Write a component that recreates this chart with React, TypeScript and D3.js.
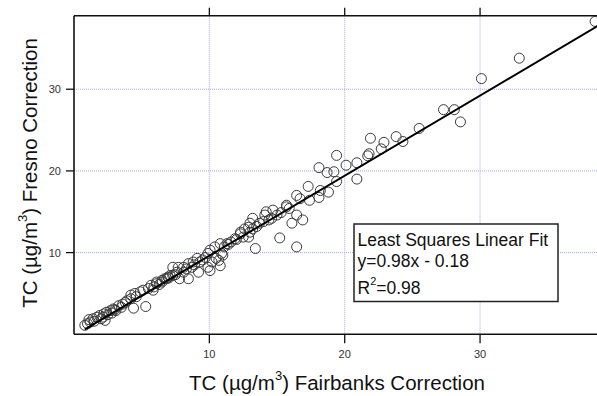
import React from "react";
import * as d3 from "d3";

const fairbanks = [
  0.8, 1.0, 1.2, 1.1, 1.4, 1.5, 1.7, 1.9, 2.0, 2.2, 2.3, 2.15, 2.4, 2.5, 2.7, 2.8, 2.9, 3.1, 3.0, 3.3,
  3.5, 3.6, 3.8, 3.9, 4.2, 4.2, 4.4, 4.5, 4.6, 4.9, 5.1, 5.3, 5.5, 5.7, 5.85, 5.9, 6.1, 6.1, 6.3, 6.5,
  6.5, 6.7, 6.85, 6.95, 7.0, 7.1, 7.3, 7.3, 7.5, 7.6, 7.7, 7.8, 8.1, 8.1, 8.3, 8.45, 8.45, 8.7, 8.8, 8.9,
  9.1, 9.2, 9.3, 9.5, 9.7, 9.9, 9.9, 10.05, 10.05, 10.2, 10.4, 10.5, 10.7, 10.8, 10.8, 10.9, 11.0, 11.1, 11.3, 11.4,
  11.6, 11.9, 12.0, 12.3, 12.3, 12.5, 12.6, 12.9, 12.9, 13.0, 13.0, 13.2, 13.2, 13.4, 13.5, 13.7, 14.0, 14.1, 14.2, 14.4,
  14.6, 14.7, 15.0, 15.2, 15.3, 15.7, 15.7, 15.9, 16.1, 16.45, 16.45, 16.45, 16.7, 16.9, 17.3, 17.4, 18.1, 18.1, 18.2, 18.7,
  18.8, 19.2, 19.4, 19.4, 20.1, 20.9, 20.9, 21.7, 21.8, 21.9, 22.7, 22.9, 23.8, 24.3, 25.5, 27.3, 28.1, 28.55, 30.1, 32.9,
  38.5,
];

const fresno = [
  1.1, 1.3, 1.5, 1.8, 1.9, 1.6, 2.1, 2.3, 1.9, 2.5, 1.7, 2.1, 2.7, 2.4, 2.9, 2.6, 3.1, 2.9, 3.0, 3.5,
  3.3, 3.7, 3.9, 4.1, 4.35, 4.8, 3.2, 5.0, 4.6, 5.2, 5.4, 3.4, 5.6, 6.0, 5.4, 5.8, 6.2, 6.4, 6.1, 6.4,
  6.6, 6.8, 6.8, 7.0, 6.9, 7.2, 7.2, 8.2, 7.3, 7.6, 8.2, 6.8, 7.6, 8.2, 8.0, 8.65, 6.8, 8.2, 8.85, 8.5,
  9.3, 7.6, 8.85, 9.1, 9.4, 8.2, 9.9, 7.8, 10.3, 8.85, 10.7, 9.3, 9.05, 8.4, 11.1, 9.9, 9.7, 10.7, 11.1, 11.0,
  11.3, 11.7, 11.6, 12.5, 12.3, 11.9, 12.9, 13.1, 11.9, 12.5, 13.6, 14.2, 12.9, 10.5, 13.2, 13.6, 13.8, 14.6, 15.0, 14.0,
  14.2, 15.2, 14.6, 11.8, 14.9, 15.8, 15.6, 15.4, 13.6, 14.6, 10.7, 17.0, 16.6, 14.0, 18.1, 16.4, 16.75, 20.4, 17.6, 19.8,
  17.4, 19.9, 18.7, 21.9, 20.7, 21.0, 19.0, 21.85, 22.1, 24.0, 22.7, 23.5, 24.2, 23.6, 25.2, 27.5, 27.5, 26.0, 31.3, 33.8,
  38.3,
];

const tickValues = [10, 20, 30];
const fitSlope = 0.98;
const fitIntercept = -0.18;
const fitRange = [0.8, 38.7];
const legendLines = ["Least Squares Linear Fit", "y=0.98x - 0.18"];

export default function App() {
  const W = 597;
  const H = 396;
  const left = 74;
  const top = 15.7;
  const bottom = 334.3;
  const x = d3.scaleLinear().domain([0, 38.64]).range([left, 597]);
  const y = d3.scaleLinear().domain([0, 39]).range([bottom, top]);
  const line = d3
    .line<number>()
    .x((d) => x(d))
    .y((d) => y(fitSlope * d + fitIntercept));
  const pts = fairbanks.map((v, i) => [v, fresno[i]]);
  const grid = "#a8a8e6";
  const font = "Arial, 'Liberation Sans', sans-serif";
  return (
    <svg
      width={W}
      height={H}
      style={{ position: "absolute", left: 0, top: 0, background: "#fff" }}
      fontFamily={font}
    >
      <rect x={0} y={0} width={W} height={H} fill="#fff" />
      {tickValues.map((t) => (
        <g key={"g" + t}>
          <line x1={x(t)} x2={x(t)} y1={top} y2={bottom} stroke={grid} strokeWidth={1} strokeDasharray="1,1" />
          <line x1={left} x2={W} y1={y(t)} y2={y(t)} stroke={grid} strokeWidth={1} strokeDasharray="1,1" />
        </g>
      ))}
      <line x1={left} x2={W} y1={top} y2={top} stroke="#111" strokeWidth={1.6} />
      <line x1={left} x2={W} y1={bottom} y2={bottom} stroke="#111" strokeWidth={1.6} />
      <line x1={left} x2={left} y1={top} y2={bottom} stroke="#111" strokeWidth={1.6} />
      {tickValues.map((t) => (
        <g key={"t" + t}>
          <line x1={x(t)} x2={x(t)} y1={bottom} y2={bottom + 9} stroke="#111" strokeWidth={1.3} />
          <line x1={x(t)} x2={x(t)} y1={top - 8} y2={top} stroke="#111" strokeWidth={1.3} />
          <line x1={left - 8} x2={left} y1={y(t)} y2={y(t)} stroke="#111" strokeWidth={1.3} />
          <text x={x(t)} y={358} fontSize={11} fill="#333" textAnchor="middle">
            {t}
          </text>
          <text x={61} y={y(t) + 4} fontSize={11} fill="#333" textAnchor="end">
            {t}
          </text>
        </g>
      ))}
      {pts.map((p, i) => (
        <circle key={i} cx={x(p[0])} cy={y(p[1])} r={5} fill="none" stroke="#3a3a3a" strokeWidth={1} />
      ))}
      <path d={line(fitRange) || ""} fill="none" stroke="#000" strokeWidth={2} />
      <rect x={354} y={224} width={204} height={77.5} fill="#fff" stroke="#222" strokeWidth={1.5} />
      <text x={357.5} y={245.7} fontSize={17.5} fill="#111">
        {legendLines[0]}
      </text>
      <text x={357.5} y={267} fontSize={17.5} fill="#111">
        {legendLines[1]}
      </text>
      <text x={357.5} y={294} fontSize={17.5} fill="#111">
        R<tspan fontSize={11} dy={-9}>2</tspan>
        <tspan dy={9}>=0.98</tspan>
      </text>
      <text x={337} y={390} fontSize={20.5} fill="#111" textAnchor="middle">
        TC (µg/m<tspan fontSize={13} dy={-10}>3</tspan>
        <tspan dy={10}>) Fairbanks Correction</tspan>
      </text>
      <text
        transform={`translate(37,173) rotate(-90)`}
        fontSize={20.5}
        fill="#111"
        textAnchor="middle"
      >
        TC (µg/m<tspan fontSize={13} dy={-10}>3</tspan>
        <tspan dy={10}>) Fresno Correction</tspan>
      </text>
    </svg>
  );
}
